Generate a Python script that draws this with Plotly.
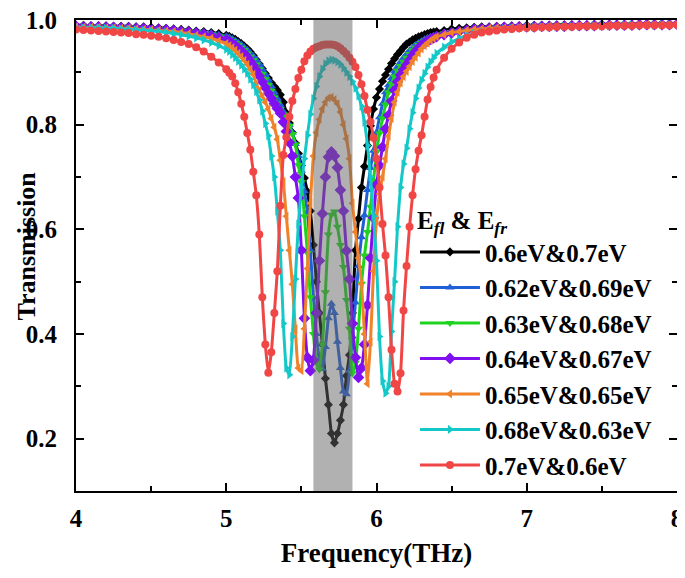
import plotly.graph_objects as go

# frequency grid (THz)
freq = [4.00, 4.05, 4.10, 4.15, 4.20, 4.25, 4.30, 4.35, 4.40, 4.45,
        4.50, 4.55, 4.60, 4.65, 4.70, 4.75, 4.80, 4.85, 4.90, 4.95,
        5.00, 5.02, 5.04, 5.06, 5.08, 5.10, 5.12, 5.14, 5.16, 5.18,
        5.20, 5.22, 5.24, 5.26, 5.28, 5.30, 5.32, 5.34, 5.36, 5.38,
        5.40, 5.42, 5.44, 5.46, 5.48, 5.50, 5.52, 5.54, 5.56, 5.58,
        5.60, 5.62, 5.64, 5.66, 5.68, 5.70, 5.72, 5.74, 5.76, 5.78,
        5.80, 5.82, 5.84, 5.86, 5.88, 5.90, 5.92, 5.94, 5.96, 5.98,
        6.00, 6.02, 6.04, 6.06, 6.08, 6.10, 6.12, 6.14, 6.16, 6.18,
        6.20, 6.22, 6.24, 6.26, 6.28, 6.30, 6.32, 6.34, 6.36, 6.38,
        6.40,
        6.45, 6.50, 6.55, 6.60, 6.65, 6.70, 6.75, 6.80, 6.85, 6.90, 6.95, 7.00,
        7.05, 7.10, 7.15, 7.20, 7.25, 7.30, 7.35, 7.40, 7.45, 7.50,
        7.55, 7.60, 7.65, 7.70, 7.75, 7.80, 7.85, 7.90, 7.95, 8.00]

# transmission
t_black = [0.990, 0.990, 0.989, 0.989, 0.989, 0.988, 0.988, 0.988, 0.987, 0.987,
           0.986, 0.985, 0.984, 0.983, 0.982, 0.981, 0.979, 0.978, 0.976, 0.974,
           0.971, 0.969, 0.966, 0.963, 0.959, 0.955, 0.950, 0.945, 0.939, 0.932,
           0.924, 0.916, 0.907, 0.898, 0.889, 0.880, 0.873, 0.866, 0.857, 0.843,
           0.822, 0.803, 0.785, 0.765, 0.745, 0.722, 0.698, 0.672, 0.635, 0.570,
           0.500, 0.440, 0.380, 0.315, 0.265, 0.210, 0.192, 0.210, 0.235, 0.265,
           0.320, 0.360, 0.440, 0.560, 0.620, 0.680, 0.720, 0.760, 0.798, 0.830,
           0.852, 0.868, 0.883, 0.895, 0.906, 0.917, 0.926, 0.934, 0.941, 0.948,
           0.954, 0.958, 0.962, 0.965, 0.968, 0.970, 0.972, 0.974, 0.976, 0.977,
           0.978,
           0.980, 0.983, 0.984, 0.985, 0.986, 0.987, 0.987, 0.988, 0.988, 0.989, 0.989, 0.990,
           0.990, 0.990, 0.990, 0.991, 0.991, 0.991, 0.991, 0.991, 0.992, 0.992,
           0.992, 0.992, 0.992, 0.992, 0.993, 0.993, 0.993, 0.993, 0.993, 0.993]

t_blue = [0.989, 0.989, 0.989, 0.988, 0.988, 0.988, 0.987, 0.987, 0.986, 0.986,
          0.985, 0.984, 0.983, 0.982, 0.981, 0.980, 0.978, 0.977, 0.975, 0.972,
          0.969, 0.967, 0.964, 0.961, 0.957, 0.953, 0.948, 0.943, 0.937, 0.931,
          0.924, 0.916, 0.907, 0.897, 0.886, 0.874, 0.862, 0.850, 0.838, 0.825,
          0.813, 0.800, 0.785, 0.763, 0.740, 0.712, 0.673, 0.633, 0.560, 0.470,
          0.400, 0.350, 0.333, 0.375, 0.430, 0.458, 0.440, 0.385, 0.335, 0.290,
          0.285, 0.330, 0.395, 0.460, 0.530, 0.585, 0.627, 0.675, 0.717, 0.750,
          0.785, 0.814, 0.840, 0.862, 0.876, 0.889, 0.902, 0.911, 0.920, 0.928,
          0.935, 0.942, 0.947, 0.952, 0.956, 0.960, 0.963, 0.966, 0.968, 0.970,
          0.972,
          0.976, 0.979, 0.981, 0.982, 0.984, 0.985, 0.985, 0.986, 0.987, 0.987, 0.987, 0.988,
          0.988, 0.988, 0.989, 0.989, 0.989, 0.989, 0.990, 0.990, 0.990, 0.990,
          0.991, 0.991, 0.991, 0.991, 0.991, 0.992, 0.992, 0.992, 0.992, 0.992]

t_green = [0.989, 0.988, 0.988, 0.988, 0.987, 0.987, 0.986, 0.986, 0.985, 0.985,
           0.984, 0.983, 0.982, 0.981, 0.980, 0.979, 0.977, 0.975, 0.973, 0.970,
           0.966, 0.963, 0.960, 0.956, 0.952, 0.947, 0.942, 0.936, 0.930, 0.923,
           0.915, 0.906, 0.897, 0.887, 0.876, 0.865, 0.852, 0.840, 0.830, 0.820,
           0.811, 0.798, 0.782, 0.762, 0.723, 0.690, 0.625, 0.555, 0.470, 0.400,
           0.345, 0.332, 0.380, 0.480, 0.590, 0.628, 0.634, 0.605, 0.570, 0.528,
           0.465, 0.410, 0.325, 0.345, 0.410, 0.496, 0.550, 0.595, 0.643, 0.693,
           0.748, 0.783, 0.812, 0.838, 0.862, 0.878, 0.892, 0.903, 0.912, 0.920,
           0.928, 0.935, 0.942, 0.947, 0.952, 0.956, 0.960, 0.963, 0.966, 0.968,
           0.970,
           0.974, 0.977, 0.979, 0.981, 0.983, 0.984, 0.985, 0.986, 0.986, 0.987, 0.987, 0.988,
           0.988, 0.988, 0.988, 0.989, 0.989, 0.989, 0.989, 0.990, 0.990, 0.990,
           0.990, 0.991, 0.991, 0.991, 0.991, 0.991, 0.992, 0.992, 0.992, 0.992]

t_purple = [0.988, 0.987, 0.987, 0.987, 0.986, 0.986, 0.985, 0.985, 0.984, 0.984,
            0.983, 0.982, 0.981, 0.980, 0.978, 0.977, 0.975, 0.973, 0.970, 0.966,
            0.962, 0.959, 0.955, 0.951, 0.946, 0.941, 0.935, 0.929, 0.921, 0.913,
            0.904, 0.893, 0.882, 0.871, 0.860, 0.850, 0.840, 0.831, 0.822, 0.805,
            0.787, 0.766, 0.740, 0.700, 0.660, 0.560, 0.430, 0.355, 0.330, 0.350,
            0.440, 0.540, 0.630, 0.700, 0.738, 0.748, 0.740, 0.718, 0.675, 0.635,
            0.559, 0.505, 0.420, 0.355, 0.317, 0.335, 0.380, 0.455, 0.545, 0.622,
            0.685, 0.722, 0.757, 0.792, 0.818, 0.845, 0.866, 0.882, 0.895, 0.905,
            0.914, 0.923, 0.932, 0.940, 0.946, 0.952, 0.956, 0.960, 0.963, 0.966,
            0.968,
            0.972, 0.975, 0.978, 0.980, 0.982, 0.983, 0.984, 0.985, 0.986, 0.986, 0.987, 0.987,
            0.987, 0.988, 0.988, 0.988, 0.988, 0.989, 0.989, 0.989, 0.989, 0.990,
            0.990, 0.990, 0.990, 0.990, 0.991, 0.991, 0.991, 0.991, 0.991, 0.992]

t_orange = [0.987, 0.986, 0.986, 0.986, 0.985, 0.985, 0.984, 0.984, 0.983, 0.982,
            0.981, 0.980, 0.979, 0.978, 0.976, 0.974, 0.971, 0.968, 0.965, 0.960,
            0.955, 0.951, 0.947, 0.942, 0.936, 0.930, 0.923, 0.915, 0.906, 0.896,
            0.878, 0.865, 0.855, 0.843, 0.830, 0.812, 0.795, 0.772, 0.732, 0.691,
            0.625, 0.560, 0.495, 0.410, 0.335, 0.330, 0.410, 0.525, 0.650, 0.740,
            0.785, 0.810, 0.830, 0.843, 0.851, 0.852, 0.848, 0.840, 0.824, 0.800,
            0.773, 0.735, 0.650, 0.595, 0.545, 0.496, 0.400, 0.305, 0.385, 0.520,
            0.616, 0.668, 0.700, 0.735, 0.778, 0.812, 0.843, 0.862, 0.880, 0.892,
            0.902, 0.911, 0.921, 0.929, 0.937, 0.945, 0.951, 0.956, 0.961, 0.965,
            0.968,
            0.972, 0.976, 0.978, 0.980, 0.982, 0.983, 0.984, 0.985, 0.985, 0.986, 0.986, 0.987,
            0.987, 0.987, 0.988, 0.988, 0.988, 0.988, 0.989, 0.989, 0.989, 0.989,
            0.990, 0.990, 0.990, 0.990, 0.990, 0.991, 0.991, 0.991, 0.991, 0.992]

t_cyan = [0.986, 0.985, 0.985, 0.985, 0.984, 0.984, 0.983, 0.982, 0.981, 0.980,
          0.979, 0.978, 0.976, 0.974, 0.972, 0.969, 0.966, 0.962, 0.957, 0.951,
          0.944, 0.940, 0.934, 0.928, 0.921, 0.914, 0.906, 0.898, 0.887, 0.876,
          0.863, 0.847, 0.826, 0.802, 0.779, 0.740, 0.700, 0.635, 0.560, 0.420,
          0.335, 0.322, 0.395, 0.505, 0.610, 0.680, 0.735, 0.780, 0.820, 0.850,
          0.873, 0.892, 0.906, 0.916, 0.922, 0.924, 0.923, 0.920, 0.915, 0.908,
          0.900, 0.892, 0.882, 0.870, 0.855, 0.835, 0.805, 0.760, 0.700, 0.625,
          0.540, 0.395, 0.310, 0.287, 0.300, 0.405, 0.500, 0.605, 0.680, 0.725,
          0.755, 0.792, 0.823, 0.850, 0.870, 0.885, 0.898, 0.910, 0.920, 0.928,
          0.936,
          0.948, 0.958, 0.965, 0.970, 0.974, 0.977, 0.979, 0.981, 0.983, 0.984, 0.985, 0.986,
          0.986, 0.987, 0.987, 0.987, 0.988, 0.988, 0.988, 0.988, 0.989, 0.989,
          0.989, 0.989, 0.990, 0.990, 0.990, 0.990, 0.990, 0.991, 0.991, 0.991]

t_red = [0.982, 0.981, 0.980, 0.979, 0.978, 0.977, 0.976, 0.975, 0.973, 0.972,
         0.970, 0.968, 0.965, 0.962, 0.958, 0.954, 0.948, 0.940, 0.930, 0.919,
         0.906, 0.899, 0.892, 0.879, 0.862, 0.840, 0.815, 0.784, 0.752, 0.710,
         0.665, 0.590, 0.470, 0.380, 0.326, 0.365, 0.440, 0.520, 0.645, 0.742,
         0.776, 0.815, 0.845, 0.868, 0.889, 0.905, 0.921, 0.932, 0.940, 0.945,
         0.948, 0.950, 0.952, 0.953, 0.953, 0.953, 0.952, 0.950, 0.946, 0.941,
         0.935, 0.928, 0.920, 0.910, 0.895, 0.877, 0.855, 0.828, 0.805, 0.775,
         0.735, 0.680, 0.610, 0.550, 0.470, 0.370, 0.305, 0.290, 0.325, 0.445,
         0.530, 0.605, 0.665, 0.715, 0.750, 0.780, 0.815, 0.848, 0.872, 0.890,
         0.905,
         0.928, 0.945, 0.957, 0.966, 0.972, 0.976, 0.978, 0.980, 0.982, 0.983, 0.984, 0.985,
         0.985, 0.986, 0.986, 0.987, 0.987, 0.987, 0.988, 0.988, 0.988, 0.988,
         0.989, 0.989, 0.989, 0.989, 0.990, 0.990, 0.990, 0.990, 0.990, 0.991]

labels = ["0.6eV&0.7eV", "0.62eV&0.69eV", "0.63eV&0.68eV", "0.64eV&0.67eV",
          "0.65eV&0.65eV", "0.68eV&0.63eV", "0.7eV&0.6eV"]
curves = [t_black, t_blue, t_green, t_purple, t_orange, t_cyan, t_red]

# highlighted frequency window (THz)
band = [5.58, 5.84]

# axis ticks
x_ticks = [4, 5, 6, 7, 8]
x_minor = [4.5, 5.5, 6.5, 7.5]
y_ticks = [0.2, 0.4, 0.6, 0.8, 1.0]
y_minor = [0.1, 0.3, 0.5, 0.7, 0.9]

colors = ["#000000", "#1F5FD8", "#1ED21E", "#8010F0", "#F0822A", "#14C8C8", "#F04646"]
symbols = ["diamond", "triangle-up", "triangle-down", "diamond",
           "triangle-left", "triangle-right", "circle"]
sizes = [7, 8, 8, 9, 8, 8, 8]

fig = go.Figure()
for lab, vals, c, sym, sz in zip(labels, curves, colors, symbols, sizes):
    fig.add_trace(go.Scatter(
        x=freq, y=vals, mode="lines+markers", name=lab,
        line=dict(color=c, width=3, shape="spline", smoothing=0.5),
        marker=dict(symbol=sym, size=sz, color=c, line=dict(width=0)),
    ))

fig.add_shape(type="rect", xref="x", yref="paper", x0=band[0], x1=band[1], y0=0, y1=1,
              fillcolor="rgb(100,100,100)", opacity=0.5, line_width=0, layer="above")

serif = "Liberation Serif"
axis_common = dict(
    ticks="inside", ticklen=8, tickwidth=2, tickcolor="black",
    showline=True, linewidth=2, linecolor="black", mirror="allticks",
    showgrid=False, zeroline=False, automargin=False, ticklabeloverflow="allow",
    tickfont=dict(family=serif, size=25, color="black", weight="bold"),
)

fig.update_xaxes(range=[4, 8], tickmode="array", tickvals=x_ticks, ticklabelstandoff=4,
                 minor=dict(ticks="inside", tickvals=x_minor, ticklen=5, tickwidth=2, tickcolor="black"),
                 title=dict(text="Frequency(THz)", standoff=12,
                            font=dict(family=serif, size=27, color="black", weight="bold")),
                 **axis_common)
fig.update_yaxes(range=[0.1, 1.0], tickmode="array", tickvals=y_ticks, tickformat=".1f",
                 ticklabelstandoff=12,
                 minor=dict(ticks="inside", tickvals=y_minor, ticklen=5, tickwidth=2, tickcolor="black"),
                 **axis_common)

# y title placed by hand so it does not collide with the tick labels
fig.add_annotation(text="Transmission", textangle=-90, showarrow=False,
                   xref="paper", yref="paper", x=0, y=0.5, xanchor="center", yanchor="middle",
                   xshift=-50, yshift=9, borderpad=0,
                   font=dict(family=serif, size=26, color="black", weight="bold"))

# page body adds an 8px offset, so the figure is sized to fit inside it
fig.update_layout(
    width=677, height=570,
    margin=dict(l=68, r=8, t=12, b=87),
    paper_bgcolor="white", plot_bgcolor="white",
    font=dict(family=serif, size=24, color="black"),
    legend=dict(
        x=0.564, y=0.625, xanchor="left", yanchor="top",
        bgcolor="rgba(0,0,0,0)", itemwidth=60,
        font=dict(family=serif, size=25, color="black", weight="bold"),
        title=dict(text="E<sub><i>fl</i></sub> & E<sub><i>fr</i></sub>",
                   font=dict(family=serif, size=25, color="black", weight="bold")),
    ),
)

fig.write_html("out.html")
